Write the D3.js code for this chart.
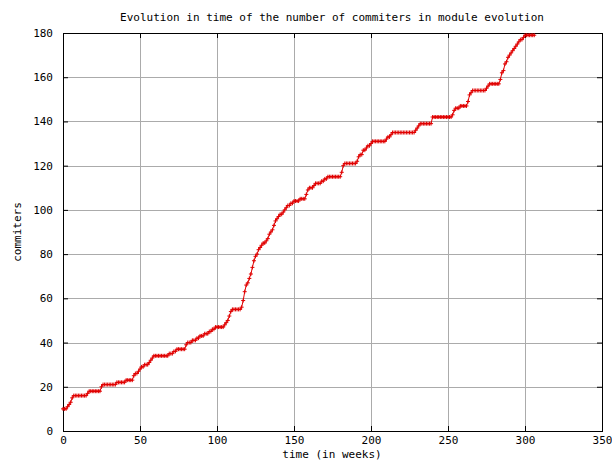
<!DOCTYPE html>
<html>
<head>
<meta charset="utf-8">
<script src="https://cdn.jsdelivr.net/npm/d3@7/dist/d3.min.js"></script>
<style>
  body { margin: 0; background: #fff; }
  text { font-family: "DejaVu Sans Mono", monospace; font-size: 11px; fill: #000; }
</style>
</head>
<body>
<div id="chart"></div>
<script>
// tick labels
const xTicks = [0, 50, 100, 150, 200, 250, 300, 350]
const yTicks = [0, 20, 40, 60, 80, 100, 120, 140, 160, 180]

// number of commiters, one value per week (week = index)
const commiters = [
    10, 10, 10, 11, 12, 13, 15, 16, 16, 16,
    16, 16, 16, 16, 16, 16, 17, 18, 18, 18,
    18, 18, 18, 18, 18, 20, 21, 21, 21, 21,
    21, 21, 21, 21, 21, 22, 22, 22, 22, 22,
    22, 23, 23, 23, 23, 23, 25, 26, 26, 27,
    28, 29, 29, 30, 30, 30, 31, 32, 33, 34,
    34, 34, 34, 34, 34, 34, 34, 34, 34, 35,
    35, 35, 36, 36, 37, 37, 37, 37, 37, 37,
    39, 40, 40, 40, 41, 41, 41, 42, 42, 43,
    43, 43, 44, 44, 44, 45, 45, 46, 46, 47,
    47, 47, 47, 47, 47, 48, 49, 50, 52, 54,
    55, 55, 55, 55, 55, 55, 56, 59, 63, 66,
    67, 69, 71, 74, 77, 79, 80, 82, 83, 84,
    85, 85, 86, 87, 89, 90, 91, 93, 95, 96,
    97, 98, 98, 99, 100, 101, 102, 102, 103, 103,
    104, 104, 104, 104, 105, 105, 105, 105, 107, 109,
    110, 110, 110, 111, 112, 112, 112, 112, 113, 113,
    114, 114, 115, 115, 115, 115, 115, 115, 115, 115,
    115, 117, 120, 121, 121, 121, 121, 121, 121, 121,
    121, 122, 124, 125, 125, 127, 127, 128, 129, 129,
    130, 131, 131, 131, 131, 131, 131, 131, 131, 131,
    132, 133, 133, 134, 135, 135, 135, 135, 135, 135,
    135, 135, 135, 135, 135, 135, 135, 135, 135, 136,
    137, 138, 139, 139, 139, 139, 139, 139, 139, 139,
    142, 142, 142, 142, 142, 142, 142, 142, 142, 142,
    142, 142, 142, 143, 145, 146, 146, 146, 147, 147,
    147, 147, 147, 149, 152, 153, 154, 154, 154, 154,
    154, 154, 154, 154, 154, 155, 156, 157, 157, 157,
    157, 157, 157, 157, 159, 162, 163, 166, 167, 169,
    170, 171, 172, 173, 174, 175, 176, 177, 177, 178,
    179, 179, 179, 179, 179, 179, 179
]

const data = commiters.map((v, i) => ({ week: i, value: v }))

const svgWidth = 612
const svgHeight = 462
const margin = { top: 33, right: 10, bottom: 31, left: 63 }
const width = 602 - margin.left
const height = 431 - margin.top

const svg = d3.select('#chart')
    .append('svg')
    .attr('width', svgWidth)
    .attr('height', svgHeight)

svg.append('rect')
    .attr('width', svgWidth)
    .attr('height', svgHeight)
    .attr('fill', '#fff')

const chartGroup = svg.append('g')
    .attr('transform', `translate(${margin.left}, ${margin.top})`)

// scales
const xScale = d3.scaleLinear().domain([0, 350]).range([0, width])
const yScale = d3.scaleLinear().domain([0, 180]).range([height, 0])

// grid lines
chartGroup.append('g')
    .selectAll('line')
    .data(xTicks.slice(1, -1))
    .enter()
    .append('line')
    .attr('x1', d => Math.round(xScale(d)) + 0.5)
    .attr('x2', d => Math.round(xScale(d)) + 0.5)
    .attr('y1', 0)
    .attr('y2', height)
    .attr('stroke', '#ababab')

chartGroup.append('g')
    .selectAll('line')
    .data(yTicks.slice(1, -1))
    .enter()
    .append('line')
    .attr('y1', d => Math.round(yScale(d)) + 0.5)
    .attr('y2', d => Math.round(yScale(d)) + 0.5)
    .attr('x1', 0)
    .attr('x2', width)
    .attr('stroke', '#ababab')

// axes (ticks inward, mirrored)
const xAxis = d3.axisBottom(xScale).tickValues(xTicks).tickSizeInner(-5).tickSizeOuter(0).tickPadding(5)
const yAxis = d3.axisLeft(yScale).tickValues(yTicks).tickSizeInner(-5).tickSizeOuter(0).tickPadding(10)

const gx = chartGroup.append('g')
    .attr('transform', `translate(0, ${height})`)
    .call(xAxis)
const gy = chartGroup.append('g').call(yAxis)
const gxTop = chartGroup.append('g')
    .call(d3.axisTop(xScale).tickValues(xTicks).tickSizeInner(-5).tickSizeOuter(0).tickFormat(''))
const gyRight = chartGroup.append('g')
    .attr('transform', `translate(${width}, 0)`)
    .call(d3.axisRight(yScale).tickValues(yTicks).tickSizeInner(-5).tickSizeOuter(0).tickFormat(''))

;[gx, gy, gxTop, gyRight].forEach(g => {
    g.attr('font-family', null).attr('font-size', null)
    g.select('.domain').remove()
    g.selectAll('line').attr('stroke', '#000')
})

// frame
chartGroup.append('rect')
    .attr('x', 0.5)
    .attr('y', 0.5)
    .attr('width', width)
    .attr('height', height)
    .attr('fill', 'none')
    .attr('stroke', '#000')

// line
const line = d3.line()
    .x(d => xScale(d.week))
    .y(d => yScale(d.value))

chartGroup.append('path')
    .datum(data)
    .attr('d', line)
    .attr('fill', 'none')
    .attr('stroke', '#e00000')
    .attr('stroke-width', 1)

// "+" markers
chartGroup.append('g')
    .selectAll('path')
    .data(data)
    .enter()
    .append('path')
    .attr('d', d => {
        const x = xScale(d.week), y = yScale(d.value)
        return `M${x - 2},${y}h4M${x},${y - 2}v4`
    })
    .attr('stroke', '#e00000')
    .attr('stroke-width', 1)

// title and labels
svg.append('text')
    .attr('x', 332)
    .attr('y', 21)
    .attr('text-anchor', 'middle')
    .text('Evolution in time of the number of commiters in module evolution')

svg.append('text')
    .attr('x', 332)
    .attr('y', 458)
    .attr('text-anchor', 'middle')
    .text('time (in weeks)')

svg.append('text')
    .attr('transform', 'translate(21, 232) rotate(-90)')
    .attr('text-anchor', 'middle')
    .text('commiters')
</script>
</body>
</html>
